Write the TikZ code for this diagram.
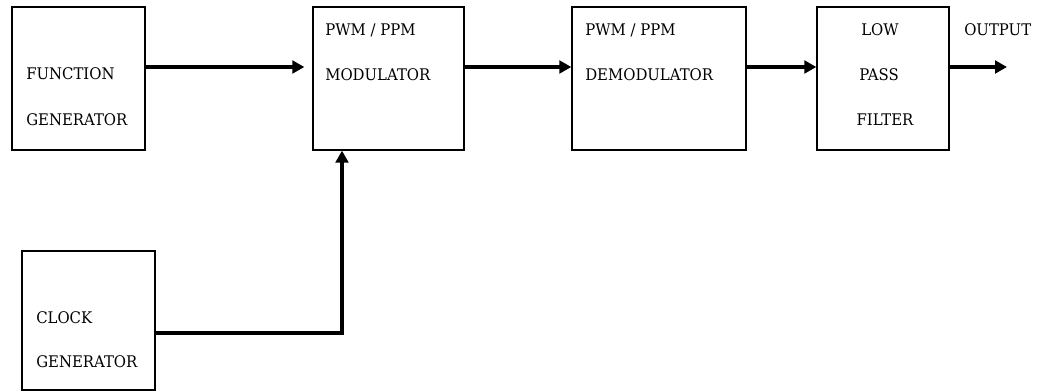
\documentclass[tikz,border=0pt]{standalone}
\usepackage{fontspec}
\setmainfont{DejaVu Serif}[FakeStretch=0.93]
\usetikzlibrary{
    arrows.meta,
    positioning,
    calc
}

\begin{document}
\begin{tikzpicture}[x=0.75pt,y=-0.75pt,
    block/.style={draw,line width=1pt,minimum height=107.25pt,inner sep=0pt},
    lbl/.style={font=\fontsize{12}{14}\selectfont,inner sep=0pt},
    flow/.style={line width=2.3pt,-{Triangle[length=9pt,width=9.5pt]}}]
                \useasboundingbox (0,0) rectangle (1049,391);
                \node[block,minimum width=99.75pt] (fg) at (78.5,78.5) {};
                \node[block,minimum width=113.25pt] (mod) at (388.5,78.5) {};
                \node[block,minimum width=130.5pt] (demod) at (659,78.5) {};
                \node[block,minimum width=99pt] (lpf) at (883,78.5) {};
                \node[block,minimum width=99.75pt,minimum height=104.25pt] (clk) at (88.5,320.5) {};
                \node[lbl,anchor=base west] (fgA) at (26,80) {FUNCTION};
                \node[lbl,anchor=base west] (fgB) at (26,126) {GENERATOR};
                \node[lbl,anchor=base west] (modA) at (325,36) {PWM / PPM};
                \node[lbl,anchor=base west] (modB) at (325,81) {MODULATOR};
                \node[lbl,anchor=base west] (demodA) at (585,36) {PWM / PPM};
                \node[lbl,anchor=base west] (demodB) at (585,81) {DEMODULATOR};
                \node[lbl,anchor=base] (lpfA) at (880,36) {LOW};
                \node[lbl,anchor=base] (lpfB) at (879,81) {PASS};
                \node[lbl,anchor=base] (lpfC) at (885,126) {FILTER};
                \node[lbl,anchor=base west] (outlbl) at (964,36) {OUTPUT};
                \node[lbl,anchor=base west] (clkA) at (36,324) {CLOCK};
                \node[lbl,anchor=base west] (clkB) at (36,368) {GENERATOR};
                \coordinate (row) at (0,67);
                \coordinate (out) at (1007,67);
                \coordinate (bend) at (342,333);
                \draw[flow] (fg.east |- row) -- ([xshift=-6pt]mod.west |- row);
                \draw[flow] (mod.east |- row) -- (demod.west |- row);
                \draw[flow] (demod.east |- row) -- (lpf.west |- row);
                \draw[flow] (lpf.east |- row) -- (out);
                \draw[flow] (clk.east |- bend) -| (mod.south -| bend);
\end{tikzpicture}
\end{document}
